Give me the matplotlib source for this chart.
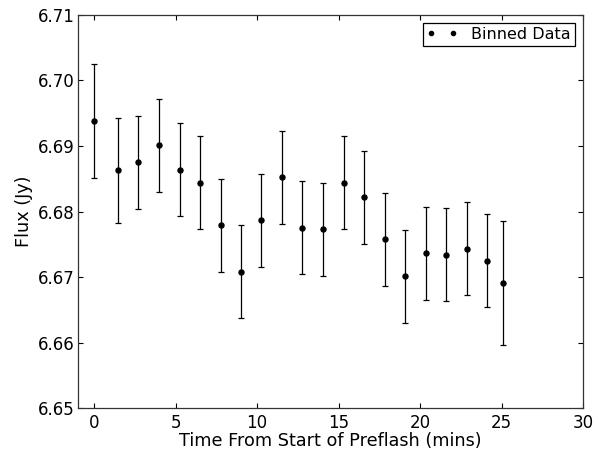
import matplotlib
matplotlib.use("Agg")
import matplotlib.pyplot as plt
from matplotlib.ticker import FormatStrFormatter

# Binned flux measurements over the preflash period
time_mins = [0.00, 1.47, 2.72, 3.97, 5.24, 6.50, 7.77, 9.02, 10.27, 11.52, 12.78,
             14.05, 15.32, 16.55, 17.84, 19.08, 20.35, 21.60, 22.85, 24.11, 25.09]
flux_jy = [6.6938, 6.6863, 6.6875, 6.6901, 6.6864, 6.6844, 6.6779, 6.6708, 6.6787,
           6.6852, 6.6775, 6.6773, 6.6844, 6.6822, 6.6758, 6.6701, 6.6736, 6.6734,
           6.6743, 6.6725, 6.6691]
flux_err = [0.0087, 0.0080, 0.0071, 0.0071, 0.0071, 0.0071, 0.0071, 0.0071, 0.0071,
            0.0071, 0.0071, 0.0071, 0.0071, 0.0071, 0.0071, 0.0071, 0.0071, 0.0071,
            0.0071, 0.0071, 0.0095]

x_ticks = [0, 5, 10, 15, 20, 25, 30]
y_ticks = [6.65, 6.66, 6.67, 6.68, 6.69, 6.70, 6.71]

plt.rcParams.update({
    "font.family": "DejaVu Sans",
    "font.size": 12,
    "xtick.direction": "in",
    "ytick.direction": "in",
    "xtick.top": True,
    "ytick.right": True,
    "xtick.major.size": 3.5,
    "ytick.major.size": 3.5,
    "xtick.major.width": 0.8,
    "ytick.major.width": 0.8,
    "xtick.major.pad": 4,
    "ytick.major.pad": 2.5,
    "axes.linewidth": 0.9,
    "axes.edgecolor": "#333333",
})

fig = plt.figure(figsize=(6.03, 4.49), dpi=100)
ax = fig.add_axes([0.129, 0.0913, 0.838, 0.8753])

ax.errorbar(time_mins, flux_jy, yerr=flux_err, fmt="o", color="k",
            markersize=3.6, elinewidth=0.9, capsize=2.3, capthick=0.9,
            label="Binned Data")

ax.set_xlim(-1, 30)
ax.set_ylim(6.65, 6.71)
ax.set_xticks(x_ticks)
ax.set_yticks(y_ticks)
ax.yaxis.set_major_formatter(FormatStrFormatter("%.2f"))
ax.set_xlabel("Time From Start of Preflash (mins)", fontsize=12.7, labelpad=0)
ax.set_ylabel("Flux (Jy)", fontsize=12.7, labelpad=3)

handles = [plt.Line2D([], [], color="k", marker="o", markersize=3.0, linestyle="none")]
leg = ax.legend(handles, ["Binned Data"], loc="upper right", numpoints=2,
                fontsize=11.5, fancybox=False, framealpha=1, edgecolor="k",
                borderaxespad=0.5, handlelength=1.975, handletextpad=0.84,
                borderpad=0.25)
leg.get_frame().set_linewidth(0.9)

fig.savefig("out.png", dpi=100)
